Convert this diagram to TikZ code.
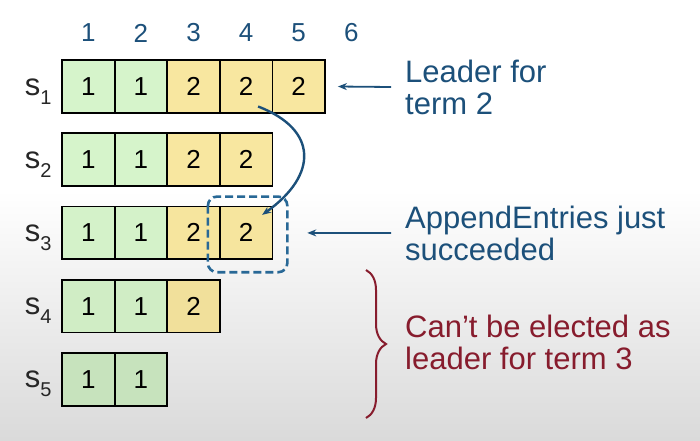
\documentclass[tikz,border=0pt]{standalone}
\usepackage{fontspec}
\setmainfont{Liberation Sans}
\usetikzlibrary{arrows.meta,decorations.pathreplacing}
\definecolor{termone}{RGB}{214,244,203}
\definecolor{termtwo}{RGB}{248,231,160}
\definecolor{labblue}{RGB}{28,80,122}
\definecolor{boxblue}{RGB}{40,104,150}
\definecolor{darkred}{RGB}{135,28,45}
\tikzset{
  cell/.style={draw=black,line width=1.8pt,minimum width=52.6pt,minimum height=52.8pt,inner sep=0pt,font=\fontsize{26}{26}\selectfont},
  note/.style={anchor=west,align=left,inner sep=0pt,font=\fontsize{31}{32}\selectfont},
  arr/.style={labblue,line width=1.8pt,-{Stealth[length=9pt,width=7pt]}}
}
\begin{document}
\begin{tikzpicture}[x=1pt,y=-1pt]
\useasboundingbox (0,0) rectangle (700,440);
\fill[white] (0,0) rectangle (700,190);
\shade[top color=white,bottom color={rgb,255:red,218;green,218;blue,218}] (0,190) rectangle (700,440);
\foreach \c in {1,...,6}{\node[text=labblue,font=\fontsize{26}{26}\selectfont] (col\c) at ({35.7+52.6*\c},33) {\c};}
\foreach \r/\sh/\terms in {1/100/{1,1,2,2,2},2/100/{1,1,2,2},3/99/{1,1,2,2},4/97/{1,1,2},5/93/{1,1}}{
  \node[anchor=base east,text=black!85,font=\fontsize{31}{31}\selectfont] (s\r) at (55,{95+73.2*(\r-1)}) {s\raisebox{-9pt}{\fontsize{20}{20}\selectfont\r}};
  \foreach \t [count=\c] in \terms{
    \ifnum\t=1 \def\tc{termone}\else\def\tc{termtwo}\fi
    \node[cell,fill=\tc!\sh!black] (s\r-\c) at ({35.7+52.6*\c},{86.5+73.2*(\r-1)}) {\t};
  }
}
\draw[boxblue,line width=2.6pt,dash pattern=on 8pt off 4pt,rounded corners=9pt] ([shift={(-11,-9)}]s3-4.north west) rectangle ([shift={(14,12)}]s3-4.south east);
\draw[arr,line width=2.4pt] ([shift={(12,20)}]s1-4.center) .. controls +(60,23) and +(56,-40) .. ([shift={(16,-18)}]s3-4.center);
\node[note,text=labblue] (lead) at (405,87) {Leader for\\term 2};
\node[note,text=labblue] (ae) at (405,233) {AppendEntries just\\succeeded};
\node[note,text=darkred] (elect) at (405,342) {Can’t be elected as\\leader for term 3};
\draw[arr] ([xshift=-14pt]lead.west) -- ([xshift=12pt]s1-5.east);
\draw[arr] ([xshift=-14pt]ae.west) -- ([xshift=34pt]s3-4.east);
\draw[darkred,line width=2pt,decorate,decoration={brace,amplitude=20pt}] (366,270) -- (366,418);
\end{tikzpicture}
\end{document}
